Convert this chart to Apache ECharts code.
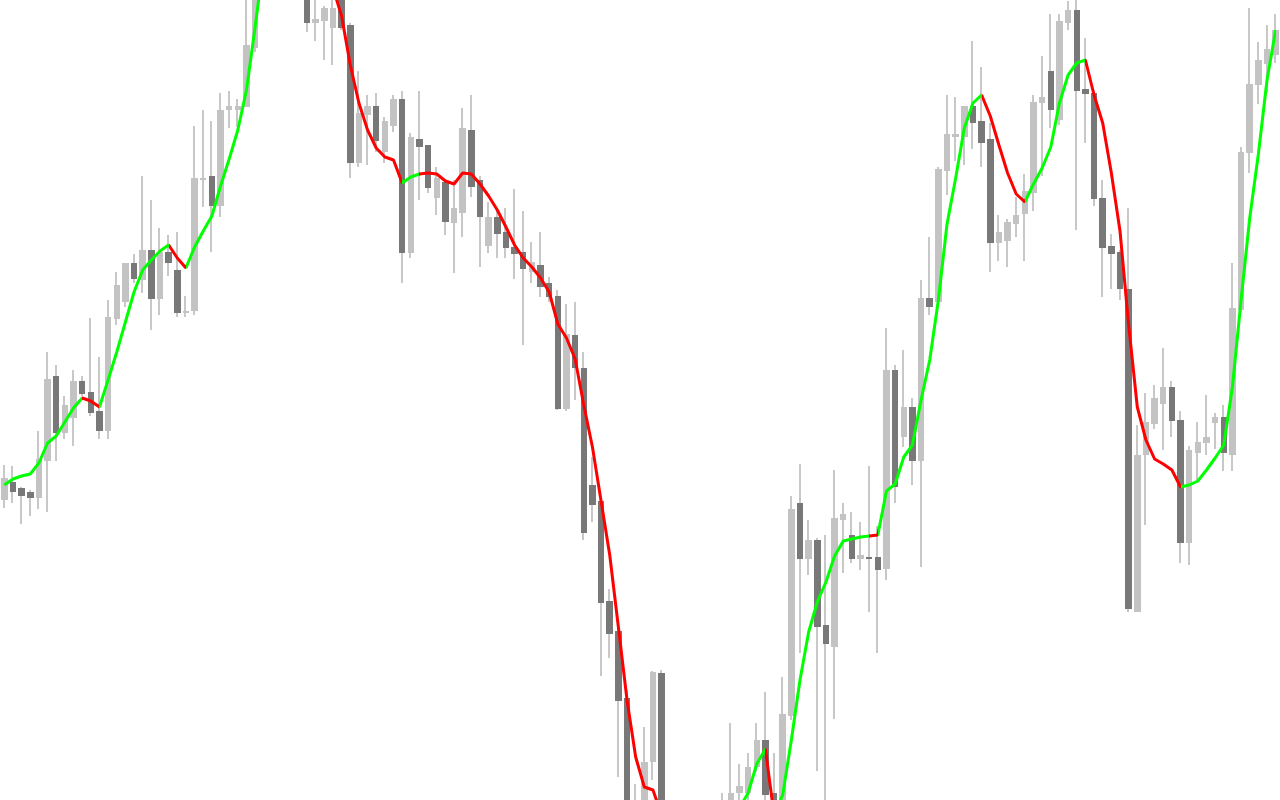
<!DOCTYPE html>
<html>
<head>
<meta charset="utf-8">
<script src="https://cdn.jsdelivr.net/npm/echarts@6/dist/echarts.min.js"></script>
<style>
html,body{margin:0;padding:0;background:#ffffff;}
#chart{width:1280px;height:800px;}
</style>
</head>
<body>
<div id="chart"></div>
<script>
// Bar prices (one entry per bar, left to right)
const open = [
500,518,512,508,502,539,624,567,582,619,
608,589,569,681,698,737,720,750,701,748,
730,687,689,820,824,794,890,890,893,952,
1020,1070,1110,1080,1120,1060,977,979,972,1003,
975,837,885,894,848,874,901,747,861,855,
802,818,777,787,870,820,754,783,768,753,
748,728,735,717,704,591,665,632,515,499,
399,369,302,140,155,238,327,160,100,130,
95,120,140,155,170,207,207,233,260,207,
185,284,497,441,460,375,353,480,465,441,
443,443,431,630,563,593,539,702,698,829,
863,863,894,879,861,757,759,776,786,807,
897,929,880,977,990,911,907,802,754,748,
711,388,545,576,596,613,580,457,547,557,
577,583,545,690,847,915,936,945];
const close = [
522,508,504,502,541,621,567,595,619,606,
587,569,683,715,737,721,750,701,748,737,
687,689,822,822,794,890,894,894,955,1020,
1070,1110,1080,1120,1060,977,981,992,992,972,
837,887,894,859,879,901,747,863,853,812,
822,778,792,872,813,783,783,766,752,746,
731,738,713,703,591,666,632,467,495,397,
366,299,165,185,238,328,160,120,140,95,
125,150,170,180,207,214,233,260,205,185,
286,491,441,460,373,356,482,486,441,445,
441,430,630,513,593,539,702,693,831,866,
866,894,877,857,757,768,778,785,809,898,
903,890,979,990,909,906,801,752,746,711,
391,545,578,602,613,579,457,550,558,563,
583,547,692,848,916,940,951,970];
const low = [
492,497,476,484,491,488,539,561,554,604,
584,561,561,675,693,717,707,670,685,724,
683,683,685,793,748,783,872,873,893,948,
1012,1062,1070,1060,1040,968,959,940,935,970,
822,833,835,848,837,868,717,742,800,807,
785,765,727,763,803,733,747,742,742,721,
655,717,703,698,590,589,600,460,478,324,
342,223,150,130,150,220,150,100,80,75,
85,110,130,145,160,192,195,228,198,175,
180,280,347,425,229,195,281,427,437,430,
388,347,420,497,553,515,433,685,693,805,
839,835,851,833,728,739,733,763,739,789,
824,872,875,970,770,857,794,703,711,700,
388,388,475,571,550,563,437,435,520,545,
551,529,529,688,827,896,908,937];
const high = [
535,534,513,510,569,648,635,604,630,624,
682,643,700,728,737,746,824,800,772,765,
768,704,874,890,879,907,909,901,1005,1030,
1080,1125,1130,1135,1130,1065,1003,994,1002,1008,
977,929,905,907,883,905,909,867,909,855,
833,820,820,892,905,824,798,792,792,811,
789,758,768,723,710,696,698,648,543,503,
411,372,310,216,273,329,330,180,160,150,
140,165,185,207,277,236,247,277,308,247,
323,504,536,480,462,465,530,497,488,478,
534,474,672,635,650,602,720,763,833,905,
903,894,959,933,877,785,781,803,826,905,
944,986,986,999,1000,962,910,820,766,750,
792,575,607,615,652,619,589,554,578,605,
587,595,737,853,992,958,975,986];
// Moving-average indicator value at each bar
const ma = [
515,521,524,526,537,557,564,578,592,602,
599,593,620,648,678,708,730,740,749,755,
742,732,753,769,784,814,841,870,910,973,
1040,1090,1115,1120,1105,1080,1055,1035,1012,984,
935,897,870,852,843,840,817,823,826,827,
826,819,816,827,826,816,804,790,773,755,
742,733,722,708,676,662,641,595,553,499,
445,373,300,243,213,210,185,165,145,132,
128,135,150,165,180,192,207,236,251,185,
205,260,320,368,398,418,444,459,461,463,
464,465,509,516,543,555,600,640,700,776,
822,872,897,905,884,855,827,806,798,816,
832,853,897,925,937,940,905,877,827,769,
675,593,560,541,536,530,513,515,519,530,
542,555,613,700,782,846,920,970];
// Indicator state runs: [first bar, last bar, state] (segment ending at each bar)
const maTrendRuns = [
[0,9,'up'],[10,11,'down'],[12,19,'up'],[20,21,'down'],[22,33,'up'],
[34,46,'down'],[47,48,'up'],[49,80,'down'],[81,88,'up'],[89,89,'down'],
[90,100,'up'],[101,101,'down'],[102,113,'up'],[114,118,'down'],[119,125,'up'],
[126,136,'down'],[137,147,'up']];
const categories = open.map((_, i) => 'Bar ' + (i + 1));

const colors = {bull:'#c3c3c3', bear:'#787878', wick:'#c8c8c8', up:'#00ff00', down:'#ff0000'};

const candleData = categories.map((c, i) => [i, open[i], close[i], low[i], high[i]]);

function renderCandle(params, api) {
  const i = api.value(0), o = api.value(1), c = api.value(2), l = api.value(3), h = api.value(4);
  const pO = api.coord([i, o]), pC = api.coord([i, c]);
  const pL = api.coord([i, l]), pH = api.coord([i, h]);
  const band = api.size([1, 0])[0];
  const cx = pO[0];
  const half = band * 0.375;
  const x0 = Math.round(cx - half), x1 = Math.round(cx + half);
  const top = Math.round(Math.min(pO[1], pC[1]));
  const bot = Math.round(Math.max(pO[1], pC[1]));
  const bull = c >= o;
  const wx = Math.floor(cx) - 1;
  return {
    type: 'group',
    children: [
      {type:'rect', shape:{x:wx, y:Math.round(pH[1]), width:2, height:Math.round(pL[1]) - Math.round(pH[1])},
       style:{fill:colors.wick}},
      {type:'rect', shape:{x:x0, y:top, width:x1 - x0, height:Math.max(2, bot - top)},
       style:{fill: bull ? colors.bull : colors.bear}}
    ]
  };
}

const chart = echarts.init(document.getElementById('chart'), null, {renderer:'canvas'});
chart.setOption({
  animation: false,
  backgroundColor: '#ffffff',
  grid: {left: -5.58, top: 0, width: 1290.56, height: 800},
  xAxis: {type:'category', data: categories, show:false, boundaryGap:true},
  yAxis: {type:'value', min:200, max:1000, show:false},
  visualMap: {
    show: false, type: 'piecewise', dimension: 0, seriesIndex: 1,
    pieces: maTrendRuns.map(r => ({gt: r[0] - 1, lte: r[1], color: r[2] === 'up' ? colors.up : colors.down}))
  },
  series: [
    {type:'custom', name:'Price', data: candleData, encode:{x:0, y:[1,2,3,4]}, clip:true,
     renderItem: renderCandle, silent:true, z:2},
    {type:'line', name:'MA', data: ma, showSymbol:false, smooth:false, silent:true, z:5,
     lineStyle:{width:3}}
  ]
});
</script>
</body>
</html>
